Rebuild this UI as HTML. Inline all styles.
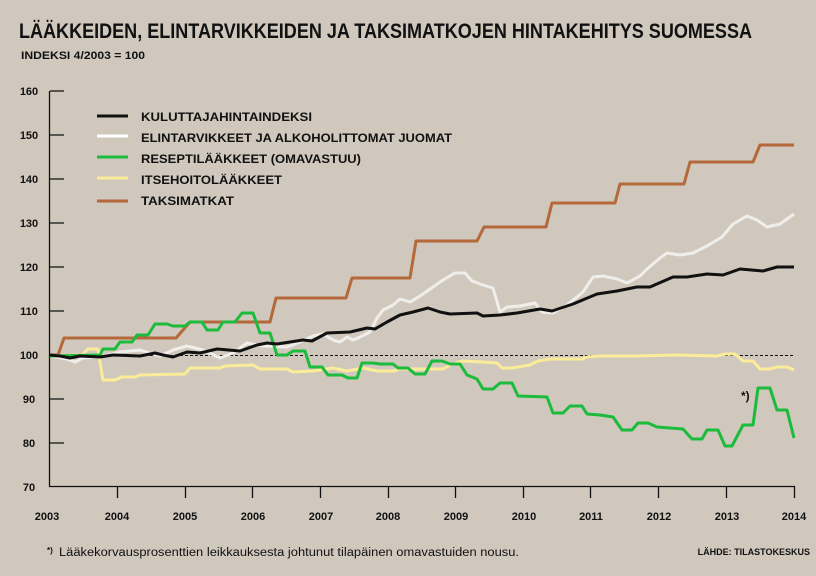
<!DOCTYPE html>
<html><head><meta charset="utf-8"><style>
html,body{margin:0;padding:0;background:#d0c8bd;}
svg{display:block;font-family:"Liberation Sans",sans-serif;}
</style></head><body>
<svg width="816" height="576" viewBox="0 0 816 576" xmlns="http://www.w3.org/2000/svg">
<rect width="816" height="576" fill="#d0c8bd"/>
<text x="19" y="38" font-size="21" font-weight="bold" fill="#111" textLength="733" lengthAdjust="spacingAndGlyphs">LÄÄKKEIDEN, ELINTARVIKKEIDEN JA TAKSIMATKOJEN HINTAKEHITYS SUOMESSA</text>
<text x="21" y="59" font-size="11" font-weight="bold" fill="#111" textLength="124" lengthAdjust="spacingAndGlyphs">INDEKSI 4/2003 = 100</text>
<g font-size="11" font-weight="bold" fill="#111" text-anchor="middle">
<text x="29" y="95">160</text><text x="29" y="139">150</text><text x="29" y="183">140</text><text x="29" y="227">130</text><text x="29" y="271">120</text><text x="29" y="315">110</text><text x="29" y="359">100</text><text x="29" y="403">90</text><text x="29" y="447">80</text><text x="29" y="491">70</text>
<text x="47" y="520">2003</text><text x="117" y="520">2004</text><text x="185" y="520">2005</text><text x="253" y="520">2006</text><text x="321" y="520">2007</text><text x="388" y="520">2008</text><text x="456" y="520">2009</text><text x="524" y="520">2010</text><text x="591" y="520">2011</text><text x="659" y="520">2012</text><text x="727" y="520">2013</text><text x="794" y="520">2014</text>
</g>
<g stroke="#111" stroke-width="1.3" fill="none">
<path d="M49.5 91V486.5H795"/>
<path d="M50 91H64M50 135H64M50 179H64M50 223H64M50 267H64M50 311H64M50 355H64M50 399H64M50 443H64"/>
<path d="M117.5 486V498M185.5 486V498M252.5 486V498M320.5 486V498M388.5 486V498M455.5 486V498M523.5 486V498M590.5 486V498M658.5 486V498M726.5 486V498M794.5 486V498"/>
</g>
<path d="M50 355.5H795" stroke="#111" stroke-width="1" stroke-dasharray="3,2"/>
<g fill="none" stroke-width="3" stroke-linejoin="round">
<polyline stroke="#b5693a" points="50,355 58,355 64,338 176,338 190,322 270,322 276,298 346,298 352,278 410,278 416,241 477,241 484,227 546,227 552,203 615,203 620,184 684,184 690,162 753,162 760,145 794,145"/>
<polyline stroke="#f0eeea" points="50,356 67,359 75,362 83,358 100,357 120,352 140,350 160,356 173,350 187,346 203,350 220,358 233,353 247,343 263,346 287,347 300,342 313,336 323,334 333,340 340,342 347,337 353,340 360,337 370,332 377,318 383,310 393,305 400,299 410,302 420,296 433,287 443,280 455,273 465,273 472,281 483,285 493,288 500,312 507,307 520,306 535,303 542,312 553,313 567,305 583,292 593,277 603,276 617,279 627,283 640,276 647,269 660,258 667,253 680,255 693,253 707,246 722,237 733,224 747,216 757,220 767,227 780,224 794,214"/>
<polyline stroke="#fbec9a" points="50,356 82,355 88,349 98,349 103,380 115,380 122,377 135,377 140,375 185,374 190,368 220,368 225,366 253,365 260,369 287,369 293,372 313,371 333,368 347,371 363,368 377,371 393,371 400,369 443,369 450,365 462,361 483,362 497,363 502,368 512,368 530,365 538,361 550,359 582,359 587,357 600,356 633,356 677,355 717,356 725,354 735,354 743,361 753,361 760,369 770,369 777,367 787,367 794,370"/>
<polyline stroke="#1bbb3b" points="50,356 100,355 103,349 115,349 120,342 132,342 137,335 148,335 155,324 167,324 173,326 185,326 190,322 202,322 207,330 218,330 223,322 235,322 242,313 253,313 260,333 270,333 277,355 287,355 293,351 305,351 310,367 322,367 328,375 342,375 348,378 357,378 362,363 373,363 380,364 393,364 398,368 408,368 415,374 425,374 432,361 442,361 450,364 460,364 467,375 477,379 483,389 493,389 500,383 512,383 518,396 547,397 553,413 563,413 570,406 582,406 587,414 600,415 613,417 622,430 632,430 638,423 648,423 657,427 670,428 683,429 692,439 702,439 707,430 718,430 725,446 732,446 743,425 753,425 758,388 770,388 777,410 787,410 794,438"/>
<polyline stroke="#111" points="50,355 60,356 70,358 80,356 100,357 113,355 140,356 155,353 163,355 173,357 187,352 200,353 217,349 240,351 257,345 267,343 277,344 290,342 303,340 312,341 327,333 350,332 367,328 375,329 387,322 400,315 413,312 428,308 440,312 450,314 477,313 483,316 500,315 517,313 540,309 552,311 573,304 597,294 617,291 637,287 650,287 673,277 687,277 707,274 723,275 740,269 763,271 777,267 794,267"/>
</g>
<g stroke-width="3">
<line x1="97" y1="116" x2="128" y2="116" stroke="#111"/>
<line x1="97" y1="136" x2="128" y2="136" stroke="#fff"/>
<line x1="97" y1="157" x2="128" y2="157" stroke="#1bbb3b"/>
<line x1="97" y1="178" x2="128" y2="178" stroke="#fbec9a"/>
<line x1="97" y1="201" x2="128" y2="201" stroke="#b5693a"/>
</g>
<g font-size="12" font-weight="bold" fill="#111">
<text x="141" y="121" textLength="171" lengthAdjust="spacingAndGlyphs">KULUTTAJAHINTAINDEKSI</text>
<text x="141" y="142" textLength="311" lengthAdjust="spacingAndGlyphs">ELINTARVIKKEET JA ALKOHOLITTOMAT JUOMAT</text>
<text x="141" y="163" textLength="220" lengthAdjust="spacingAndGlyphs">RESEPTILÄÄKKEET (OMAVASTUU)</text>
<text x="141" y="184" textLength="141" lengthAdjust="spacingAndGlyphs">ITSEHOITOLÄÄKKEET</text>
<text x="141" y="205" textLength="93" lengthAdjust="spacingAndGlyphs">TAKSIMATKAT</text>
</g>
<text x="741" y="400" font-size="12" font-weight="bold" fill="#111">*)</text>
<text x="47" y="553" font-size="8" font-weight="bold" fill="#111">*)</text>
<text x="59" y="556" font-size="11.5" fill="#111" textLength="460" lengthAdjust="spacingAndGlyphs">Lääkekorvausprosenttien leikkauksesta johtunut tilapäinen omavastuiden nousu.</text>
<text x="810" y="555" font-size="9" font-weight="bold" fill="#111" text-anchor="end">LÄHDE: TILASTOKESKUS</text>
</svg>
</body></html>
